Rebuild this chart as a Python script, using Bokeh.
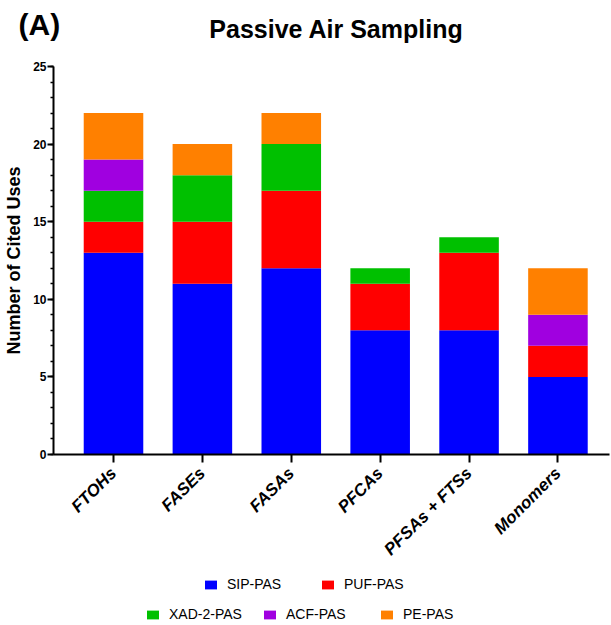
import math
from bokeh.plotting import figure
from bokeh.layouts import column
from bokeh.models import ColumnDataSource, Range1d, FixedTicker, Legend, LegendItem, Label
from bokeh.embed import file_html
from bokeh.resources import INLINE

categories = ["FTOHs", "FASEs", "FASAs", "PFCAs", "PFSAs + FTSs", "Monomers"]
series = ["SIP-PAS", "PUF-PAS", "XAD-2-PAS", "ACF-PAS", "PE-PAS"]
sip = [13, 11, 12, 8, 8, 5]
puf = [2, 4, 5, 3, 5, 2]
xad = [2, 3, 3, 1, 1, 0]
acf = [2, 0, 0, 0, 0, 2]
pe = [3, 2, 2, 0, 0, 3]
colors = ["#0000FF", "#FF0000", "#00C000", "#A000E0", "#FF8000"]
y_ticks = [0, 5, 10, 15, 20, 25]

xs = list(range(1, len(categories) + 1))
data = dict(x=xs)
for name, vals in zip(series, [sip, puf, xad, acf, pe]):
    data[name] = vals
source = ColumnDataSource(data)

FONT = "Liberation Sans"

head = figure(width=611, height=55, output_backend="svg", toolbar_location=None,
              x_range=Range1d(0, 1), y_range=Range1d(0, 1),
              x_axis_location=None, y_axis_location=None,
              min_border=0, outline_line_color=None)
leg = figure(width=611, height=53, output_backend="svg", toolbar_location=None,
             x_range=Range1d(100, 101), y_range=Range1d(100, 101),
             x_axis_location=None, y_axis_location=None,
             min_border=0, outline_line_color=None)

# opt out of frame alignment in the column if supported
shift = 53
if "frame_align" in head.properties():
    head.frame_align = False
    leg.frame_align = False
    shift = 0

# ---------- header (panel letter + title) ----------
head.grid.visible = False
head.add_layout(Label(x=18 - shift, y=31, x_units="screen", y_units="screen", text="(A)",
                      text_font=FONT, text_font_size="30px", text_font_style="bold",
                      text_color="black", text_baseline="middle", text_align="left"))
head.add_layout(Label(x=336 - shift, y=27, x_units="screen", y_units="screen",
                      text="Passive Air Sampling",
                      text_font=FONT, text_font_size="25px", text_font_style="bold",
                      text_color="black", text_baseline="middle", text_align="center"))

# ---------- main chart ----------
p = figure(frame_width=556, frame_height=388, output_backend="svg", toolbar_location=None,
           x_range=Range1d(0.325, 6.58), y_range=Range1d(0, 25),
           min_border_left=53, min_border_right=2, min_border_top=11, min_border_bottom=118)
p.outline_line_color = None
p.grid.grid_line_color = None

p.vbar_stack(series, x="x", width=0.67, source=source, color=colors, line_color=None)

for ax in (p.xaxis[0], p.yaxis[0]):
    ax.axis_line_width = 2
    ax.axis_line_color = "black"
    ax.major_tick_line_width = 2
    ax.major_tick_line_color = "black"
    ax.minor_tick_line_width = 1.5
    ax.minor_tick_line_color = "black"
    ax.major_tick_in = 0
    ax.major_label_text_font = FONT
    ax.major_label_text_font_style = "bold"
    ax.major_label_text_color = "black"

p.yaxis.ticker = FixedTicker(ticks=y_ticks, minor_ticks=list(range(0, 26)))
p.yaxis.major_tick_out = 6
p.yaxis.minor_tick_out = 3
p.yaxis.minor_tick_in = 0
p.yaxis.major_label_text_font_size = "12px"
p.yaxis.major_label_standoff = 1
p.yaxis.axis_label = "Number of Cited Uses"
p.yaxis.axis_label_text_font = FONT
p.yaxis.axis_label_text_font_size = "18px"
p.yaxis.axis_label_text_font_style = "bold"
p.yaxis.axis_label_text_color = "black"
p.yaxis.axis_label_standoff = 6

p.xaxis.ticker = FixedTicker(ticks=xs, minor_ticks=[])
p.xaxis.major_label_overrides = {x: c for x, c in zip(xs, categories)}
p.xaxis.major_label_orientation = math.pi / 4
p.xaxis.major_tick_out = 8
p.xaxis.major_label_text_font_size = "17px"
p.xaxis.major_label_text_font_style = "bold italic"
p.xaxis.major_label_standoff = 8

# ---------- legend strip ----------
leg.grid.visible = False
lr = leg.vbar_stack(series, x="x", width=0.5, source=source, color=colors, line_color=None)

common = dict(orientation="horizontal", label_text_font=FONT, label_text_font_size="14px",
              label_text_color="black", glyph_width=15, glyph_height=11,
              label_width=80, label_height=11, label_standoff=9, spacing=13,
              border_line_color=None, background_fill_alpha=0, padding=0, margin=0)
leg.add_layout(Legend(items=[LegendItem(label=series[i], renderers=[lr[i]]) for i in (0, 1)],
                      location=(203 - shift, 33), **common))
leg.add_layout(Legend(items=[LegendItem(label=series[i], renderers=[lr[i]]) for i in (2, 3, 4)],
                      location=(145 - shift, 3), **common))

layout = column(head, p, leg, spacing=0)
open("out.html", "w").write(file_html(layout, INLINE))
